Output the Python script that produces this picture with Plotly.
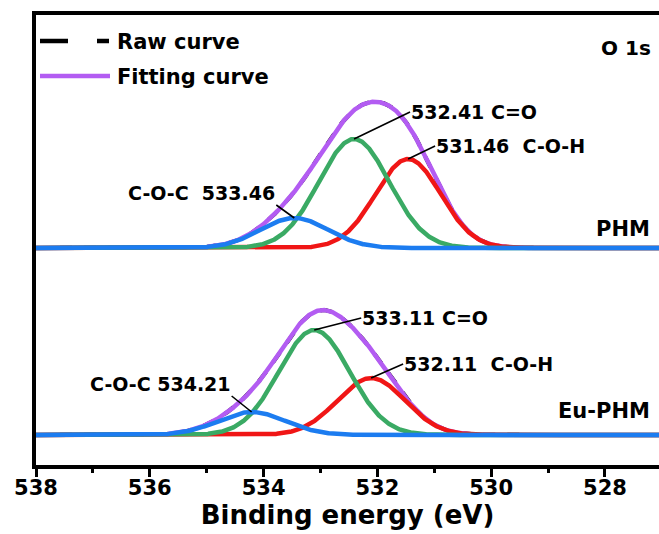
import numpy as np
import plotly.graph_objects as go

# ---- O 1s peak-fit parameters (binding energy in eV, intensity in a.u.) ----
peak_labels = ["C=O", "C-O-H", "C-O-C"]

phm_centers = [532.41, 531.46, 533.46]
phm_heights = [10.9, 8.9, 3.0]
phm_fwhm = [1.46, 1.35, 1.40]
phm_offset = 21.7

eu_centers = [533.11, 532.11, 534.21]
eu_heights = [10.5, 5.7, 2.3]
eu_fwhm = [1.46, 1.40, 1.40]
eu_offset = 3.0

x_ticks = [538, 536, 534, 532, 530, 528]
x_range = [538, 527.05]

comp_colors = ["#3AAA64", "#F01616", "#1C7CF0"]  # C=O, C-O-H, C-O-C
fit_color = "#B35CF2"
FONT = "DejaVu Sans"

energy = np.linspace(538, 527.0, 1101)


def gauss(x, c, h, fwhm):
    return h * np.exp(-4.0 * np.log(2.0) * (x - c) ** 2 / fwhm ** 2)


fig = go.Figure()


def add_spectrum(centers, heights, fwhm, offset):
    comps = [gauss(energy, c, h, w) for c, h, w in zip(centers, heights, fwhm)]
    envelope = offset + np.sum(comps, axis=0)
    # raw spectrum (dashed black) under the fitted envelope
    fig.add_trace(go.Scatter(x=energy, y=envelope, mode="lines", showlegend=False,
                             line=dict(color="black", width=4, dash="dash")))
    fig.add_trace(go.Scatter(x=energy, y=envelope, mode="lines", showlegend=False,
                             line=dict(color=fit_color, width=4.5)))
    # components: C-O-H, C=O, then C-O-C on top
    for i in [1, 0, 2]:
        fig.add_trace(go.Scatter(x=energy, y=offset + comps[i], mode="lines",
                                 showlegend=False,
                                 line=dict(color=comp_colors[i], width=4.5)))


add_spectrum(phm_centers, phm_heights, phm_fwhm, phm_offset)
add_spectrum(eu_centers, eu_heights, eu_fwhm, eu_offset)

# ---- peak labels with leader lines ----
lab_font = dict(family=FONT, size=19, color="black")


def peak_note(center, height, offset, text, ax, ay, xanchor, yanchor):
    fig.add_annotation(x=center, y=offset + height, xref="x", yref="y",
                       text="<b>%s</b>" % text, showarrow=True, arrowhead=0,
                       arrowwidth=1.6, arrowcolor="black", ax=ax, ay=ay,
                       xanchor=xanchor, yanchor=yanchor, font=lab_font,
                       borderpad=0)


peak_note(phm_centers[0], phm_heights[0], phm_offset,
          "%.2f %s" % (phm_centers[0], peak_labels[0]), 56, -27, "left", "middle")
peak_note(phm_centers[1], phm_heights[1], phm_offset,
          "%.2f  %s" % (phm_centers[1], peak_labels[1]), 27, -13, "left", "middle")
peak_note(phm_centers[2], phm_heights[2], phm_offset,
          "%s  %.2f" % (peak_labels[2], phm_centers[2]), -18, -13, "right", "bottom")

peak_note(eu_centers[0], eu_heights[0], eu_offset,
          "%.2f %s" % (eu_centers[0], peak_labels[0]), 47, -12, "left", "middle")
peak_note(eu_centers[1], eu_heights[1], eu_offset,
          "%.2f  %s" % (eu_centers[1], peak_labels[1]), 32, -14, "left", "middle")
peak_note(eu_centers[2], eu_heights[2], eu_offset,
          "%s %.2f" % (peak_labels[2], eu_centers[2]), -20, -16, "right", "bottom")

# ---- plot-area helpers (pixel -> paper) ----
W, H = 659, 534
ML, MR, MT, MB = 36, 0, 15, 69
PW, PH = W - ML - MR, H - MT - MB


def px(xp):
    return (xp - ML) / PW


def py(yp):
    return (H - MB - yp) / PH


big_font = dict(family=FONT, size=21, color="black")
fig.add_annotation(x=px(652), y=py(229), xref="paper", yref="paper", text="<b>PHM</b>",
                   showarrow=False, xanchor="right", yanchor="middle", font=big_font)
fig.add_annotation(x=px(652), y=py(411), xref="paper", yref="paper", text="<b>Eu-PHM</b>",
                   showarrow=False, xanchor="right", yanchor="middle", font=big_font)
fig.add_annotation(x=px(653), y=py(48), xref="paper", yref="paper", text="<b>O 1s</b>",
                   showarrow=False, xanchor="right", yanchor="middle",
                   font=dict(family=FONT, size=20, color="black"))

# ---- legend ----
fig.add_shape(type="line", xref="paper", yref="paper", x0=px(40), x1=px(109),
              y0=py(41), y1=py(41),
              line=dict(color="black", width=4.5, dash="28px,29px,12px,200px"))
fig.add_shape(type="line", xref="paper", yref="paper", x0=px(40), x1=px(110),
              y0=py(76), y1=py(76), line=dict(color=fit_color, width=4.5))
fig.add_annotation(x=px(115), y=py(42), xref="paper", yref="paper", text="<b>Raw curve</b>",
                   showarrow=False, xanchor="left", yanchor="middle", font=big_font)
fig.add_annotation(x=px(115), y=py(77), xref="paper", yref="paper",
                   text="<b>Fitting curve</b>", showarrow=False, xanchor="left",
                   yanchor="middle", font=big_font)

fig.update_layout(
    width=W, height=H,
    margin=dict(l=ML, r=MR, t=MT, b=MB, pad=0),
    paper_bgcolor="white", plot_bgcolor="white",
    showlegend=False,
    xaxis=dict(
        range=x_range, tickvals=x_ticks, ticktext=["<b>%d</b>" % v for v in x_ticks],
        ticks="outside", ticklen=8, tickwidth=2.5, tickcolor="black",
        ticklabelstandoff=-7,
        minor=dict(dtick=1, tick0=537, ticks="outside", ticklen=4, tickwidth=2.5,
                   tickcolor="black", showgrid=False),
        showline=True, linewidth=3.5, linecolor="black", mirror=True,
        showgrid=False, zeroline=False,
        tickfont=dict(family=FONT, size=21, color="black"),
        title=dict(text="<b>Binding energy (eV)</b>", standoff=7,
                   font=dict(family=FONT, size=26, color="black")),
    ),
    yaxis=dict(
        range=[0, 45], showticklabels=False, ticks="", showgrid=False, zeroline=False,
        showline=True, linewidth=4, linecolor="black", mirror=False,
    ),
)

fig.write_html("out.html")
